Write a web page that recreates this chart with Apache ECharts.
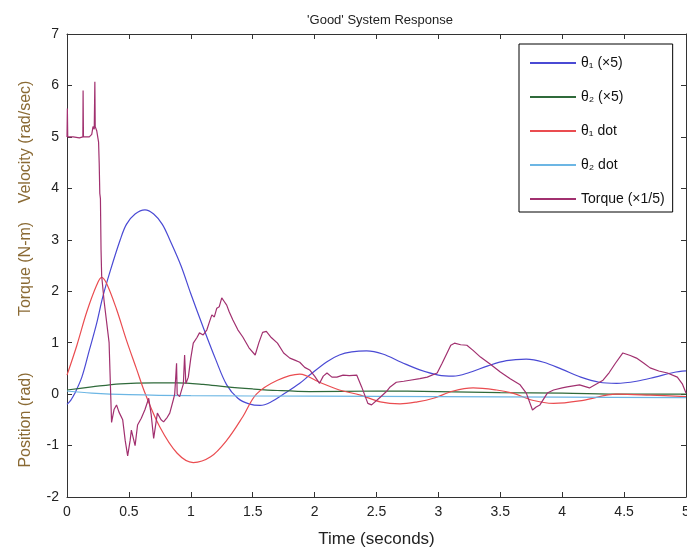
<!DOCTYPE html>
<html lang="en">
<head>
    <meta http-equiv="Content-Type" content="text/html; charset=UTF-8">
    <title>'Good' System Response</title>
    <script type="text/javascript" src="https://cdn.jsdelivr.net/npm/echarts@6/dist/echarts.min.js"></script>
</head>

<body style="margin: 0; width: 687px; height: 548px; background: #fff">
<div id="main" style="width: 687px; height: 548px"></div>
<script type="text/javascript">
    // [time (s), value] pairs
    var theta1 = [
        [0, -0.2], [0.03, -0.12], [0.06, 0.0], [0.12, 0.33], [0.18, 0.85], [0.24, 1.38],
        [0.29, 1.9], [0.35, 2.4], [0.43, 3.0], [0.48, 3.3], [0.55, 3.5], [0.63, 3.58],
        [0.7, 3.5], [0.77, 3.3], [0.83, 3.0], [0.92, 2.5], [1.0, 1.95], [1.1, 1.3],
        [1.2, 0.68], [1.29, 0.18], [1.38, -0.08], [1.47, -0.19], [1.56, -0.22], [1.65, -0.15],
        [1.75, 0.0], [1.88, 0.21], [1.96, 0.37], [2.1, 0.63], [2.2, 0.76], [2.3, 0.82],
        [2.42, 0.84], [2.55, 0.78], [2.7, 0.62], [2.85, 0.47], [3.0, 0.37], [3.12, 0.35],
        [3.25, 0.42], [3.4, 0.55], [3.55, 0.65], [3.71, 0.68], [3.85, 0.62], [4.0, 0.48],
        [4.15, 0.33], [4.3, 0.23], [4.44, 0.21], [4.6, 0.25], [4.75, 0.33], [4.9, 0.42], [5.0, 0.45]
    ];
    var theta2 = [
        [0, 0.08], [0.2, 0.14], [0.43, 0.2], [0.7, 0.22], [0.89, 0.22], [1.1, 0.19],
        [1.29, 0.14], [1.5, 0.1], [1.7, 0.07], [1.96, 0.05], [2.5, 0.06], [3.0, 0.05],
        [3.5, 0.03], [4.0, 0.02], [4.5, 0.0], [5.0, 0.0]
    ];
    var theta1Dot = [
        [0, 0.37], [0.08, 0.95], [0.16, 1.6], [0.24, 2.12], [0.28, 2.27], [0.32, 2.15],
        [0.4, 1.65], [0.48, 1.05], [0.56, 0.5], [0.63, 0.02], [0.75, -0.64], [0.89, -1.15],
        [1.02, -1.33], [1.16, -1.22], [1.29, -0.9], [1.42, -0.44], [1.53, 0.0], [1.7, 0.27],
        [1.88, 0.39], [2.04, 0.23], [2.2, 0.08], [2.37, -0.02], [2.53, -0.15], [2.69, -0.19],
        [2.83, -0.15], [2.96, -0.08], [3.12, 0.06], [3.28, 0.12], [3.47, 0.08], [3.6, 0.02],
        [3.76, -0.12], [3.93, -0.18], [4.17, -0.12], [4.44, 0.0], [4.71, -0.02], [5.0, -0.05]
    ];
    var theta2Dot = [
        [0, 0.06], [0.2, 0.02], [0.5, -0.01], [1.0, -0.03], [2.0, -0.04], [3.0, -0.05],
        [4.0, -0.06], [5.0, -0.07]
    ];
    var torque = [
        [0, 5.0], [0.003, 5.55], [0.006, 5.0], [0.05, 5.0], [0.1, 4.98], [0.128, 5.0],
        [0.13, 5.9], [0.133, 5.0], [0.18, 5.0], [0.2, 5.05], [0.21, 5.2], [0.22, 5.15],
        [0.225, 6.07], [0.228, 5.2], [0.24, 5.12], [0.25, 5.1], [0.255, 4.9], [0.26, 4.5],
        [0.265, 3.9], [0.27, 3.8], [0.275, 2.8], [0.28, 2.3], [0.3, 1.8], [0.34, 1.0],
        [0.36, -0.55], [0.38, -0.3], [0.4, -0.21], [0.42, -0.35], [0.45, -0.5], [0.47, -0.9],
        [0.49, -1.2], [0.51, -0.9], [0.52, -0.7], [0.55, -1.0], [0.57, -0.6], [0.6, -0.47],
        [0.63, -0.3], [0.66, -0.08], [0.68, -0.4], [0.7, -0.86], [0.73, -0.37], [0.76, -0.5],
        [0.78, -0.54], [0.81, -0.45], [0.83, -0.37], [0.86, -0.1], [0.87, 0.0], [0.885, 0.6],
        [0.89, 0.0], [0.91, -0.05], [0.94, 0.2], [0.95, 0.76], [0.96, 0.2], [0.98, 0.33],
        [1.0, 0.7], [1.02, 0.99], [1.05, 1.1], [1.07, 1.19], [1.1, 1.15], [1.13, 1.25],
        [1.15, 1.4], [1.17, 1.54], [1.19, 1.5], [1.21, 1.67], [1.23, 1.7], [1.25, 1.87],
        [1.27, 1.8], [1.29, 1.73], [1.31, 1.6], [1.34, 1.44], [1.38, 1.25], [1.42, 1.11],
        [1.47, 0.9], [1.52, 0.76], [1.55, 1.0], [1.58, 1.2], [1.61, 1.22], [1.65, 1.1],
        [1.7, 0.99], [1.75, 0.8], [1.8, 0.7], [1.84, 0.66], [1.88, 0.62], [1.92, 0.52],
        [1.96, 0.47], [2.0, 0.35], [2.04, 0.21], [2.07, 0.35], [2.1, 0.41], [2.14, 0.33],
        [2.18, 0.33], [2.23, 0.37], [2.28, 0.36], [2.34, 0.37], [2.38, 0.14], [2.43, -0.18],
        [2.46, -0.21], [2.53, -0.06], [2.58, 0.05], [2.61, 0.14], [2.66, 0.23], [2.72, 0.25],
        [2.77, 0.27], [2.85, 0.3], [2.91, 0.33], [2.99, 0.41], [3.03, 0.6], [3.07, 0.8],
        [3.1, 0.95], [3.13, 0.99], [3.18, 0.96], [3.23, 0.95], [3.28, 0.85], [3.34, 0.72],
        [3.42, 0.58], [3.5, 0.43], [3.58, 0.3], [3.66, 0.18], [3.71, 0.02], [3.76, -0.31],
        [3.79, -0.25], [3.82, -0.21], [3.88, 0.02], [3.93, 0.08], [4.0, 0.12], [4.04, 0.14],
        [4.09, 0.16], [4.14, 0.18], [4.22, 0.12], [4.28, 0.2], [4.33, 0.27], [4.38, 0.42],
        [4.43, 0.6], [4.49, 0.8], [4.55, 0.75], [4.6, 0.7], [4.66, 0.6], [4.71, 0.51],
        [4.78, 0.45], [4.85, 0.41], [4.93, 0.33], [4.97, 0.2], [5.0, 0.02]
    ];

    var seriesNames = ['θ₁ (×5)', 'θ₂ (×5)', 'θ₁ dot', 'θ₂ dot', 'Torque (×1/5)'];
    var seriesColors = ['#4a4ad4', '#2f6a3a', '#ea4c50', '#6cb6e4', '#a1306f'];
    var seriesData = [theta1, theta2, theta1Dot, theta2Dot, torque];

    var axisColor = '#333';
    var labelFont = "'Liberation Sans Narrow', 'Liberation Sans', sans-serif";

    var myChart = echarts.init(document.getElementById('main'), null, { renderer: 'canvas' });

    var series = seriesData.map(function (d, i) {
        return {
            name: seriesNames[i],
            type: 'line',
            data: d,
            symbol: 'none',
            smooth: i < 4 ? 0.35 : false,
            lineStyle: { color: seriesColors[i], width: 1.2 },
            itemStyle: { color: seriesColors[i] },
            animation: false,
            z: i === 4 ? 3 : 2
        };
    });

    function edgeAxis(pos) {
        return {
            type: 'value',
            position: pos,
            min: 0, max: 5, interval: 0.5,
            axisLine: { show: true, onZero: false, lineStyle: { color: axisColor } },
            axisTick: { show: true, inside: true, length: 5, lineStyle: { color: axisColor } },
            splitLine: { show: false }
        };
    }

    var xBottom = edgeAxis('bottom');
    xBottom.axisLabel = { color: '#222', fontSize: 14, fontFamily: labelFont, margin: 8,
        formatter: function (v) { return String(v); } };
    xBottom.name = 'Time (seconds)';
    xBottom.nameLocation = 'middle';
    xBottom.nameGap = 34;
    xBottom.nameTextStyle = { color: '#222', fontSize: 17, fontFamily: labelFont };
    var xTop = edgeAxis('top');
    xTop.axisLabel = { show: false };

    function yAxisOf(pos, labels) {
        return {
            type: 'value',
            position: pos,
            min: -2, max: 7, interval: 1,
            axisLine: { show: true, onZero: false, lineStyle: { color: axisColor } },
            axisTick: { show: true, inside: true, length: 5, lineStyle: { color: axisColor } },
            axisLabel: labels ? { color: '#222', fontSize: 14, fontFamily: labelFont, margin: 8 } : { show: false },
            splitLine: { show: false }
        };
    }

    myChart.setOption({
        backgroundColor: '#fff',
        title: {
            text: "'Good' System Response",
            left: 375,
            textAlign: 'center',
            top: 9,
            textStyle: { color: '#222', fontSize: 13, fontWeight: 'normal', fontFamily: "'Liberation Sans', sans-serif" }
        },
        grid: { left: 67, right: 1, top: 34, bottom: 51, outerBoundsMode: 'none' },
        xAxis: [xBottom, xTop],
        yAxis: [yAxisOf('left', true), yAxisOf('right', false)],
        legend: {
            orient: 'vertical',
            left: 519,
            top: 44,
            padding: [11, 8, 5, 11],
            itemGap: 18,
            itemWidth: 46,
            itemHeight: 2,
            icon: 'rect',
            borderColor: '#000',
            borderWidth: 1,
            borderRadius: 0,
            backgroundColor: '#fff',
            textStyle: { color: '#111', fontSize: 14, lineHeight: 16, fontFamily: "'Liberation Sans', sans-serif" },
            data: seriesNames
        },
        graphic: [
            { type: 'text', x: 26, y: 142, rotation: Math.PI / 2,
              style: { text: 'Velocity (rad/sec)', fill: '#8a6a34', font: "16px " + labelFont, align: 'center', verticalAlign: 'middle' } },
            { type: 'text', x: 26, y: 269, rotation: Math.PI / 2,
              style: { text: 'Torque (N-m)', fill: '#8a6a34', font: "16px " + labelFont, align: 'center', verticalAlign: 'middle' } },
            { type: 'text', x: 26, y: 420, rotation: Math.PI / 2,
              style: { text: 'Position (rad)', fill: '#8a6a34', font: "16px " + labelFont, align: 'center', verticalAlign: 'middle' } }
        ],
        series: series
    });
</script>
</body>
</html>
